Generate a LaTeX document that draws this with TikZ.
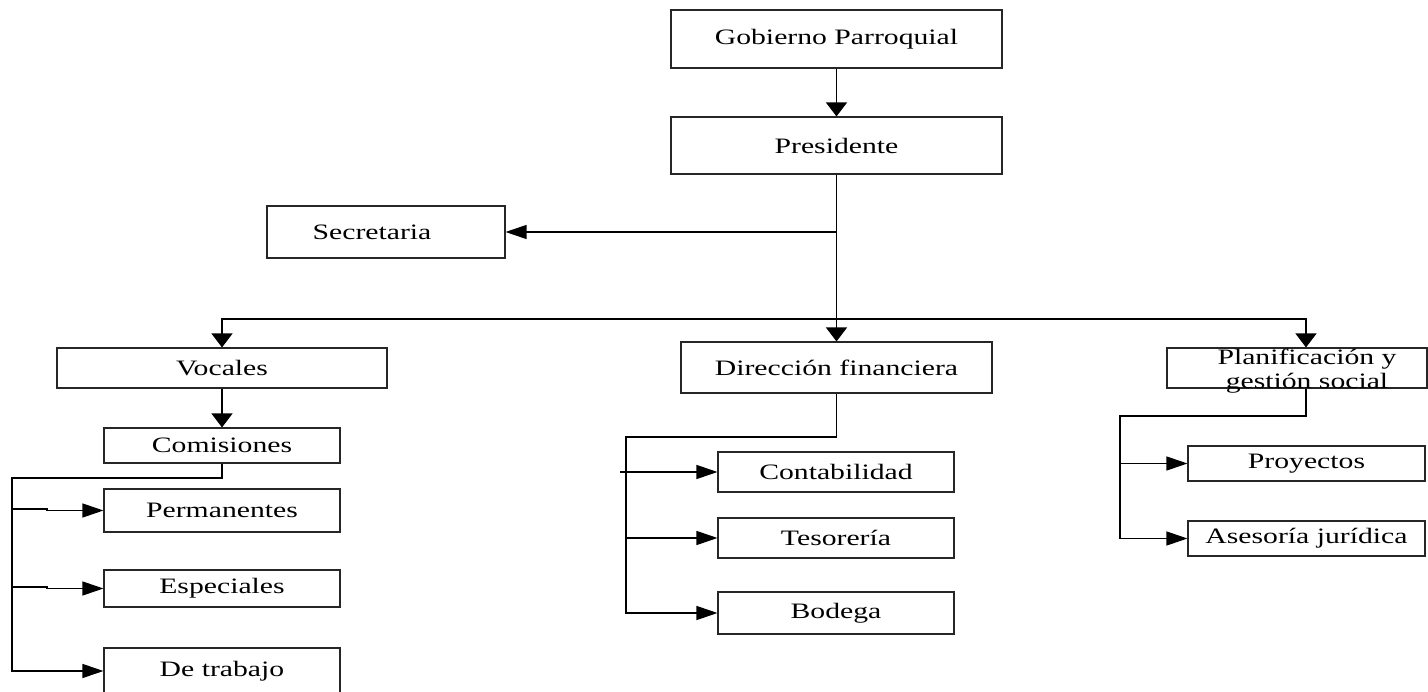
\documentclass[tikz,border=0pt]{standalone}
\usepackage{fontspec}
\setmainfont{Liberation Serif}[FakeStretch=1.35]
\usetikzlibrary{arrows.meta}
\begin{document}
\begin{tikzpicture}[x=1pt,y=-1pt,
  box/.style={draw=black!85,line width=1.1pt,rectangle,inner sep=0pt},
  txt/.style={inner sep=0pt,font=\fontsize{22}{23}\selectfont,align=center},
  link/.style={draw=black,line width=1.2pt},
  darr/.style={link,-{Triangle[width=21pt,length=14pt]}},
  harr/.style={link,-{Triangle[width=14pt,length=21pt]}}]
\useasboundingbox (0,0) rectangle (1428,692);

% --- top levels ---
\node[box,txt,minimum width=331pt,minimum height=58pt] (gob) at (836.5,39) {Gobierno Parroquial};
\node[box,txt,minimum width=331pt,minimum height=57pt] (pres) at (836.5,145.5) {Presidente};
\node[box,minimum width=238pt,minimum height=52pt] (sec) at (386,232) {};
\node[txt] (sect) at (372,232) {Secretaria};

% --- second level ---
\node[box,txt,minimum width=330pt,minimum height=40pt] (voc) at (222,368) {Vocales};
\node[box,txt,minimum width=311pt,minimum height=51pt] (dir) at (836.5,367.5) {Dirección financiera};
\node[box,minimum width=260pt,minimum height=40pt] (plan) at (1297,368) {};
\node[txt,font=\fontsize{22}{24}\selectfont] (plant) at (1307,371) {Planificación y\\gestión social};

% --- Vocales branch ---
\node[box,txt,minimum width=236pt,minimum height=35pt] (com) at (222,445.5) {Comisiones};
\node[box,txt,minimum width=236pt,minimum height=43pt] (perm) at (222,510.5) {Permanentes};
\node[box,txt,minimum width=236pt,minimum height=37pt] (esp) at (222,588.5) {Especiales};
\node[box,txt,minimum width=236pt,minimum height=46pt] (dtr) at (222,671) {De trabajo};

% --- Dirección financiera branch ---
\node[box,txt,minimum width=236pt,minimum height=40pt] (cont) at (836,472) {Contabilidad};
\node[box,txt,minimum width=236pt,minimum height=40pt] (tes) at (836,538) {Tesorería};
\node[box,txt,minimum width=236pt,minimum height=42pt] (bod) at (836,613) {Bodega};

% --- Planificación branch ---
\node[box,txt,minimum width=237pt,minimum height=35pt] (proy) at (1306.5,463.5) {Proyectos};
\node[box,txt,minimum width=237pt,minimum height=35pt] (ases) at (1306.5,538.5) {Asesoría jurídica};

% --- junction points ---
\coordinate (js) at (836,232);
\coordinate (jb) at (836,319);
\coordinate (vb) at (222,319);
\coordinate (pb) at (1306,319);
\coordinate (cl) at (12,478);
\coordinate (dl) at (626,437);
\coordinate (ds) at (620,472);
\coordinate (pl) at (1120,416);

% --- connectors ---
\draw[darr] (gob.south) -- (pres.north);
\draw[darr] (pres.south) -- (dir.north);
\draw[harr] (js) -- (sec.east);
\draw[darr] (jb) -- (vb) -- (voc.north);
\draw[darr] (jb) -- (pb) -- (pb |- plan.north);
\draw[darr] (voc.south) -- (com.north);

\draw[harr] (com.south) |- (cl) |- (dtr.west);
\draw[harr] (cl |- 0,509) -- (47,509) -- (47,510.5) -- (perm.west);
\draw[harr] (cl |- 0,587) -- (47,587) -- (47,588.5) -- (esp.west);

\draw[harr] (dir.south) |- (dl) |- (bod.west);
\draw[harr] (ds) -- (cont.west);
\draw[harr] (dl |- tes.west) -- (tes.west);

\draw[harr] (pb |- plan.south) |- (pl) |- (ases.west);
\draw[harr] (pl |- proy.west) -- (proy.west);
\end{tikzpicture}
\end{document}
